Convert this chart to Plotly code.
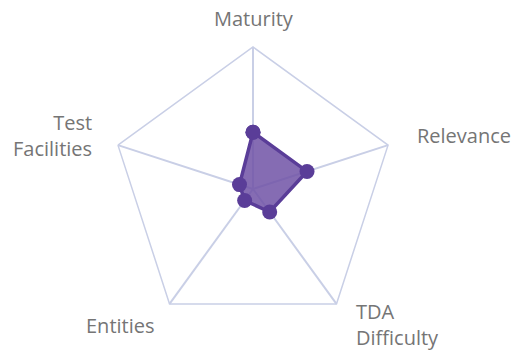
import plotly.graph_objects as go

categories = ["Maturity", "Relevance", "TDA Difficulty", "Entities", "Test Facilities"]
label_texts = ["Maturity", "Relevance", "TDA<br>Difficulty", "Entities", "Test<br>Facilities"]
values = [4, 4, 2, 1, 1]

cats_closed = categories + [categories[0]]
vals_closed = values + [values[0]]

fig = go.Figure()
fig.add_trace(go.Scatterpolar(
    r=vals_closed,
    theta=cats_closed,
    mode="lines+markers",
    fill="toself",
    fillcolor="rgba(112,82,166,0.85)",
    line=dict(color="#5a3d98", width=3.5),
    marker=dict(color="#5a3d98", size=15),
    hoverinfo="skip",
    showlegend=False,
))

# axis labels placed around the pentagon (paper coords relative to polar domain)
label_pos = [
    dict(x=0.504, y=1.102, xanchor="center", yanchor="middle", align="center"),
    dict(x=1.072, y=0.690, xanchor="left", yanchor="middle", align="left"),
    dict(x=0.855, y=0.122, xanchor="left", yanchor="top", align="left"),
    dict(x=0.032, y=0.020, xanchor="center", yanchor="middle", align="center"),
    dict(x=-0.061, y=0.690, xanchor="right", yanchor="middle", align="right"),
]
annotations = []
for txt, p in zip(label_texts, label_pos):
    annotations.append(dict(text=txt, xref="paper", yref="paper", showarrow=False,
                            font=dict(size=20, color="#757575"), **p))

fig.update_layout(
    width=520, height=352,
    margin=dict(l=103, r=133, t=39, b=29),
    paper_bgcolor="white",
    font=dict(family="Open Sans, Noto Sans, sans-serif", color="#757575", size=20),
    annotations=annotations,
    polar=dict(
        bgcolor="white",
        gridshape="linear",
        radialaxis=dict(range=[0, 10], visible=True, showgrid=False, showline=False,
                        showticklabels=False, ticks=""),
        angularaxis=dict(direction="clockwise", rotation=90, showline=True,
                         linecolor="#c9cfe6", linewidth=1.5, gridcolor="#c9cfe6",
                         gridwidth=1.5, ticks="", showticklabels=False),
    ),
)

fig.write_html("out.html")
